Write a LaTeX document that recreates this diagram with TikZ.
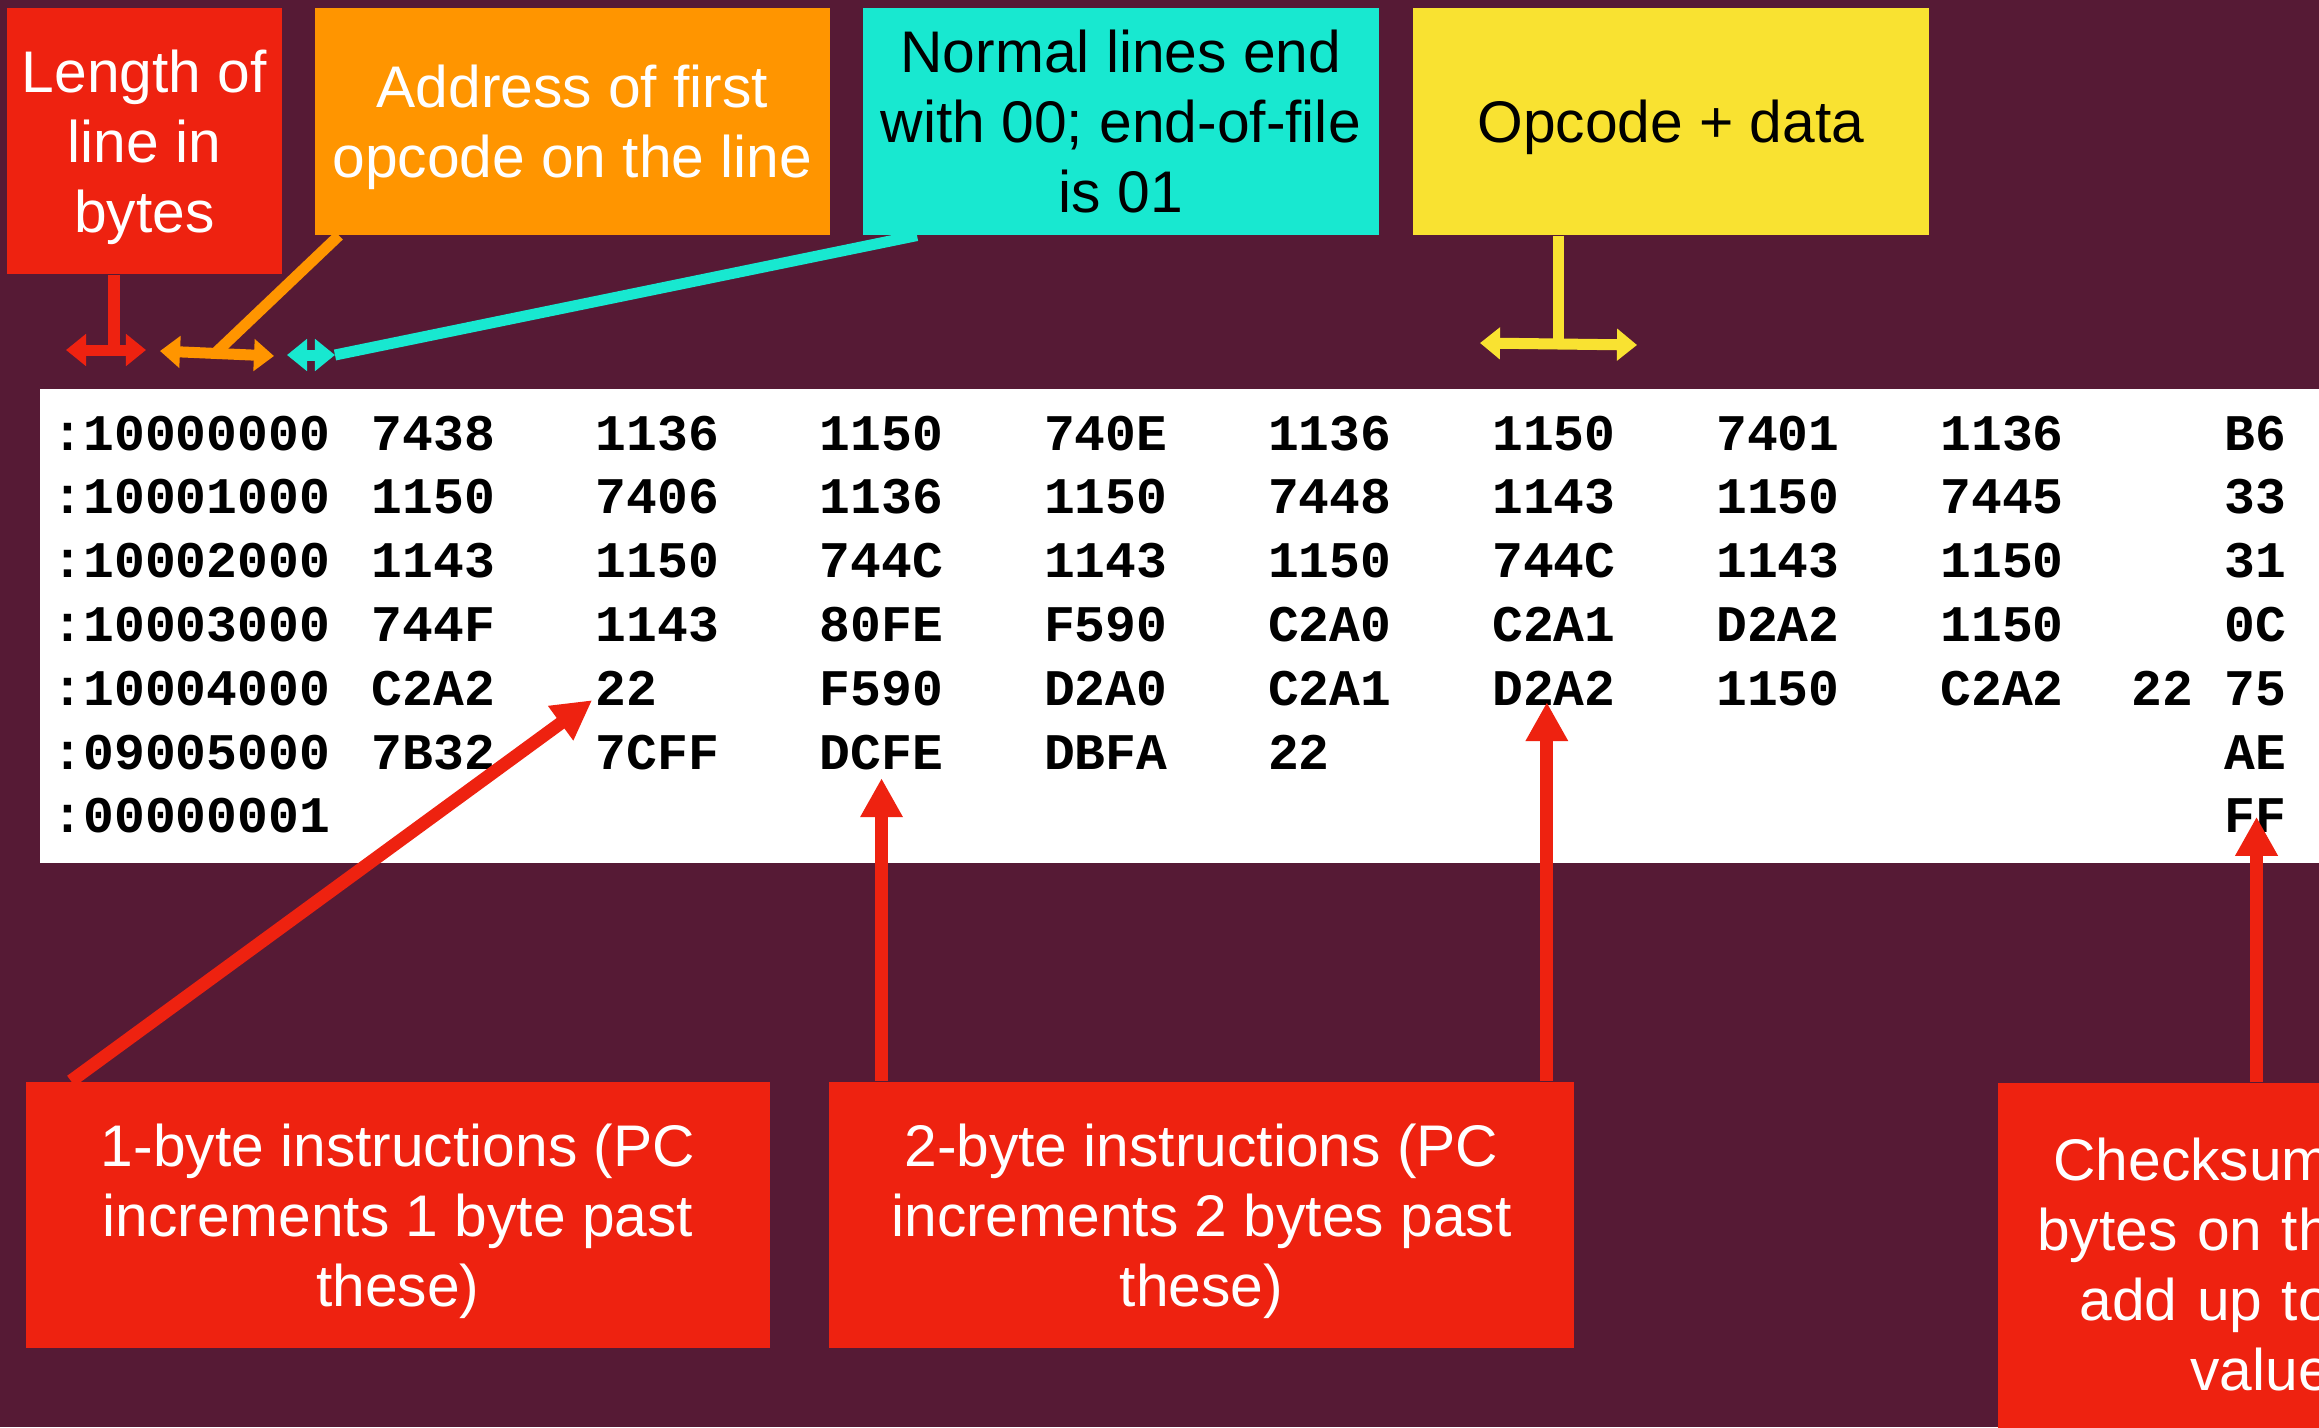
\documentclass[tikz,border=0pt]{standalone}
\usepackage{fontspec}
\setmainfont{Liberation Sans}
\newfontfamily\hexfont{Liberation Mono}
\usetikzlibrary{arrows.meta,calc}

\definecolor{plum}{RGB}{86,26,53}
\definecolor{calred}{RGB}{238,34,16}
\definecolor{calorange}{RGB}{255,149,0}
\definecolor{calcyan}{RGB}{24,232,208}
\definecolor{calyellow}{RGB}{249,226,49}

\tikzset{
  callout/.style={anchor=north west, inner sep=0pt, align=center, text depth=0pt,
    font=\fontsize{16.7}{19.9}\selectfont},
  hexcell/.style={anchor=base west, inner sep=0pt,
    font=\hexfont\bfseries\fontsize{14.6}{17}\selectfont},
  pointer/.style={draw=calred, line width=0.13cm, -{Triangle[length=0.39cm,width=0.4cm]}},
  span/.style={line width=0.11cm,
    {Triangle[length=0.2cm,width=0.31cm]}-{Triangle[length=0.2cm,width=0.31cm]}},
  stem/.style={line width=0.11cm},
}

\begin{document}
\begin{tikzpicture}[x=0.01cm, y=-0.01cm]

  % page
  \clip (0,0) rectangle (2319,1427);
  \fill[plum] (0,0) rectangle (2319,1427);

  % callouts above the listing
  \node[callout, fill=calred, text=white, minimum width=2.75cm, minimum height=2.66cm] (lenbox) at (6,7) {Length of\\line in\\bytes};
  \node[callout, fill=calorange, text=white, minimum width=5.15cm, minimum height=2.27cm] (addrbox) at (314,7) {Address of first\\opcode on the line};
  \node[callout, fill=calcyan, minimum width=5.16cm, minimum height=2.27cm] (typebox) at (862,7) {Normal lines end\\with 00; end-of-file\\is 01};
  \node[callout, fill=calyellow, minimum width=5.16cm, minimum height=2.27cm] (databox) at (1412,7) {Opcode + data};

  % the hex listing
  \fill[white] (40,389) rectangle (2319,863);
  \foreach \addr [count=\r] in {:10000000,:10001000,:10002000,:10003000,:10004000,:09005000,:00000001}
    \node[hexcell] (addr\r) at (52,{450+63.8*(\r-1)}) {\addr};
  \foreach \w [count=\c] in {7438,1136,1150,740E,1136,1150,7401,1136}
    \node[hexcell] (op1\c) at ({371+224.1*(\c-1)},450) {\w};
  \foreach \w [count=\c] in {1150,7406,1136,1150,7448,1143,1150,7445}
    \node[hexcell] (op2\c) at ({371+224.1*(\c-1)},513.8) {\w};
  \foreach \w [count=\c] in {1143,1150,744C,1143,1150,744C,1143,1150}
    \node[hexcell] (op3\c) at ({371+224.1*(\c-1)},577.6) {\w};
  \foreach \w [count=\c] in {744F,1143,80FE,F590,C2A0,C2A1,D2A2,1150}
    \node[hexcell] (op4\c) at ({371+224.1*(\c-1)},641.4) {\w};
  \foreach \w [count=\c] in {C2A2,22,F590,D2A0,C2A1,D2A2,1150,C2A2}
    \node[hexcell] (op5\c) at ({371+224.1*(\c-1)},705.2) {\w};
  \node[hexcell] (op59) at (2131,705.2) {22};
  \foreach \w [count=\c] in {7B32,7CFF,DCFE,DBFA,22}
    \node[hexcell] (op6\c) at ({371+224.1*(\c-1)},769) {\w};
  \foreach \s [count=\r] in {B6,33,31,0C,75,AE,FF}
    \node[hexcell] (sum\r) at (2224,{450+63.8*(\r-1)}) {\s};

  % callouts below the listing
  \node[callout, fill=calred, text=white, minimum width=7.44cm, minimum height=2.66cm] (onebyte) at (25,1081) {1-byte instructions (PC\\increments 1 byte past\\these)};
  \node[callout, fill=calred, text=white, minimum width=7.45cm, minimum height=2.66cm] (twobyte) at (828,1081) {2-byte instructions (PC\\increments 2 bytes past\\these)};
  \node[callout, fill=calred, text=white, text depth=, text width=3.33cm, align=right, minimum height=3.64cm] (sumbox) at (1997,1082) {Checksum\\bytes on th\\add up to\\value};

  % field spans
  \coordinate (lenL) at (66,350);
  \coordinate (lenR) at (146,350);
  \coordinate (lenM) at (114,350);
  \draw[stem, calred] (lenbox.south -| lenM) -- (lenM);
  \draw[span, calred] (lenL) -- (lenR);

  \coordinate (addrL) at (160,351);
  \coordinate (addrR) at (274,356);
  \coordinate (addrM) at (215,353.5);
  \draw[stem, calorange] ($(addrbox.south west)+(25,0)$) -- (addrM);
  \draw[span, calorange] (addrL) -- (addrR);

  \coordinate (typeL) at (287,355);
  \coordinate (typeR) at (335,355);
  \draw[stem, calcyan] ($(typebox.south west)+(55,0)$) -- (typeR);
  \draw[span, calcyan] (typeL) -- (typeR);

  \coordinate (dataL) at (1480,343);
  \coordinate (dataR) at (1637,345);
  \coordinate (dataM) at (1558,344);
  \draw[stem, calyellow] (databox.south -| dataM) -- (dataM);
  \draw[span, calyellow] (dataL) -- (dataR);

  % pointers into the listing
  \draw[pointer] ($(onebyte.north west)+(46,0)$) -- ($(op52.base west)+(-3,-5)$);
  \draw[pointer] (op63.south |- twobyte.north) -- ($(op63.south)+(0,8)$);
  \coordinate (d2tip) at ($(op56.base)+(-7,-3)$);
  \draw[pointer] (d2tip |- twobyte.north) -- (d2tip);
  \coordinate (fftip) at ($(sum7.base)+(1,-16)$);
  \draw[pointer] (fftip |- sumbox.north) -- (fftip);

\end{tikzpicture}
\end{document}
